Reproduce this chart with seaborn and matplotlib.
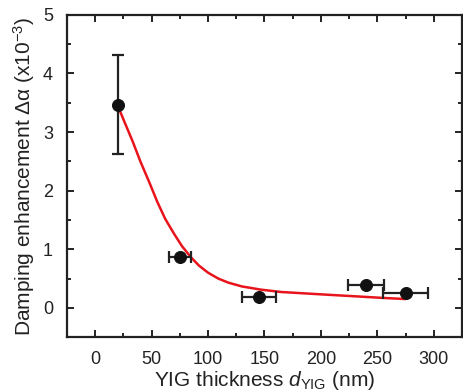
import matplotlib
matplotlib.use("Agg")
import matplotlib.pyplot as plt
import seaborn as sns
import numpy as np
import pandas as pd
from matplotlib.ticker import MultipleLocator

# data
thickness = [20, 75, 145, 240, 275]
damping = [3.47, 0.87, 0.19, 0.39, 0.25]
thickness_err = [0, 10, 15, 16, 20]
damping_err = [0.85, 0, 0, 0, 0]

fit_x = [20, 26, 33, 40, 48, 55, 62, 70, 77, 85, 92, 100, 109, 118, 130, 147, 165, 187, 209, 232, 254, 275]
fit_y = [3.45, 3.17, 2.85, 2.50, 2.14, 1.81, 1.52, 1.26, 1.05, 0.86, 0.72, 0.60, 0.50, 0.43, 0.365, 0.31, 0.27, 0.245, 0.22, 0.195, 0.17, 0.15]

x_ticks = [0, 50, 100, 150, 200, 250, 300]
y_ticks = [0, 1, 2, 3, 4, 5]

sns.set_style("ticks")
plt.rcParams['font.family'] = ['Liberation Sans', 'DejaVu Sans']
plt.rcParams['mathtext.fontset'] = 'custom'
plt.rcParams['mathtext.rm'] = 'Liberation Sans'
plt.rcParams['mathtext.it'] = 'Liberation Sans:italic'

fig = plt.figure(figsize=(4.63, 3.92), dpi=100)
ax = fig.add_axes([0.1447, 0.14, 0.853, 0.822])

fit_df = pd.DataFrame({"x": fit_x, "y": fit_y})
sns.lineplot(data=fit_df, x="x", y="y", color="#e8141c", lw=1.8, ax=ax, zorder=2)

# error bars
for xi, yi, xe, ye in zip(thickness, damping, thickness_err, damping_err):
    ax.errorbar(xi, yi, xerr=xe if xe else None, yerr=ye if ye else None,
                fmt="none", ecolor="#222222", elinewidth=1.6, capsize=4, capthick=1.6, zorder=3)

pts = pd.DataFrame({"x": thickness, "y": damping})
sns.scatterplot(data=pts, x="x", y="y", color="#111111", s=75, edgecolor="#111111", ax=ax, zorder=4)

ax.set_xlim(-25, 325)
ax.set_ylim(-0.5, 5)
ax.set_xticks(x_ticks)
ax.set_yticks(y_ticks)
ax.xaxis.set_minor_locator(MultipleLocator(25))
ax.yaxis.set_minor_locator(MultipleLocator(0.5))
ax.tick_params(which="both", direction="in", top=True, right=True, width=1.4, colors="#222222",
               labelcolor="#222222", labelsize=13)
ax.tick_params(which="major", length=5, pad=10)
ax.tick_params(which="minor", length=3)
for s in ax.spines.values():
    s.set_linewidth(1.6)
    s.set_color("#222222")

ax.set_xlabel(r"YIG thickness $d_{\mathrm{YIG}}$ (nm)", fontsize=15, color="#222222", labelpad=1)
ax.set_ylabel("Damping enhancement \u0394\u03b1 (x10$^{-3}$)", fontsize=15, color="#222222", labelpad=4)

fig.savefig("out.png", dpi=100)
